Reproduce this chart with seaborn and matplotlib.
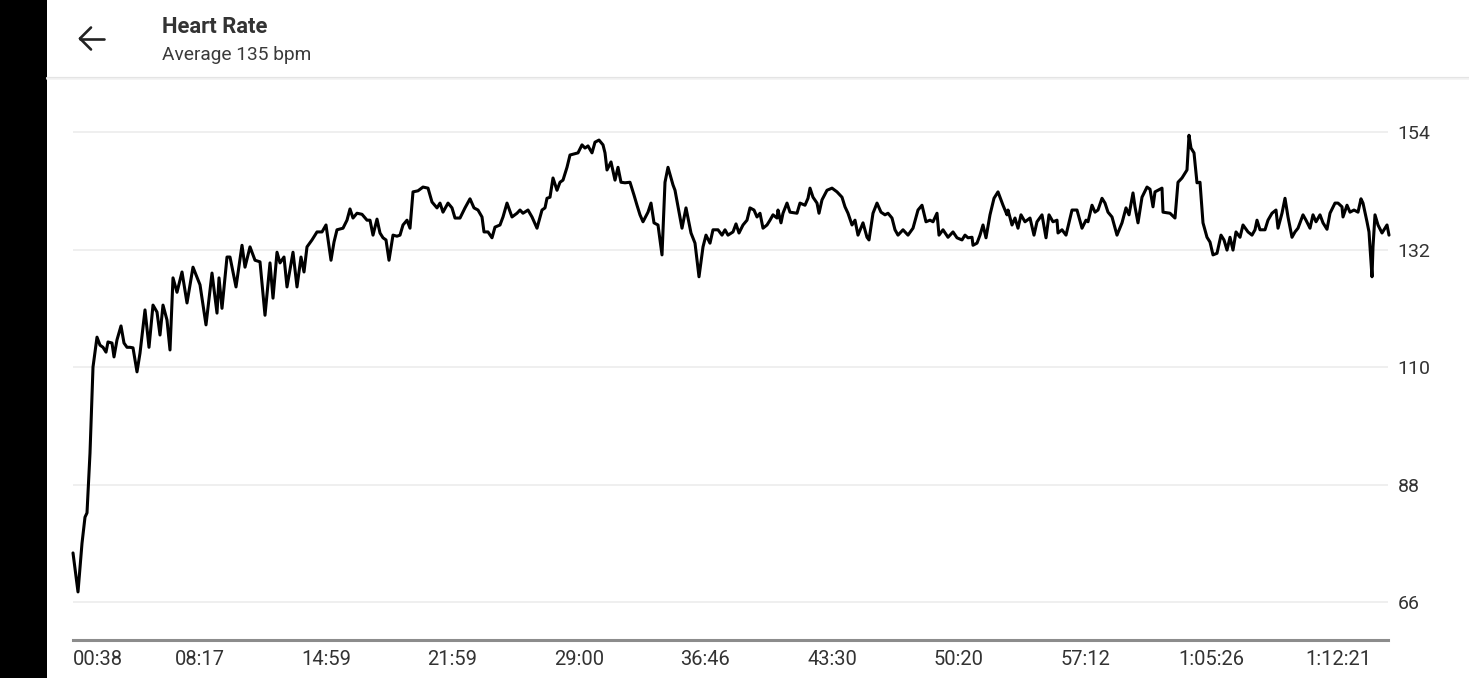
import numpy as np
import pandas as pd
import matplotlib
matplotlib.use("Agg")
import matplotlib.pyplot as plt
from matplotlib.lines import Line2D
from matplotlib.patches import Rectangle
import seaborn as sns

# ---------------- data ----------------
title = "Heart Rate"
subtitle = "Average 135 bpm"

sample_idx = [
    0, 5, 9, 12, 14, 17, 20, 24, 27, 30, 33, 35, 39, 41, 44, 48, 51, 54, 57, 60,
    64, 67, 72, 76, 80, 84, 87, 90, 94, 97, 100, 104, 109, 114, 120, 127, 133, 139, 144, 146,
    149, 154, 157, 163, 169, 172, 177, 182, 187, 192, 197, 200, 204, 207, 211, 214, 220, 224, 228, 231,
    234, 239, 244, 249, 253, 258, 261, 264, 270, 274, 277, 280, 284, 289, 294, 297, 300, 304, 307, 310,
    313, 316, 320, 324, 327, 330, 334, 337, 340, 345, 350, 355, 359, 364, 367, 370, 375, 379, 382, 387,
    392, 397, 401, 405, 409, 411, 415, 419, 422, 427, 430, 434, 439, 444, 447, 450, 455, 459, 464, 469,
    472, 474, 477, 480, 484, 487, 490, 494, 497, 505, 509, 512, 515, 519, 522, 526, 530, 532, 534, 538,
    542, 545, 548, 552, 557, 561, 564, 567, 570, 575, 578, 581, 585, 589, 592, 595, 600, 602, 609, 613,
    618, 622, 626, 630, 633, 637, 640, 645, 649, 652, 655, 660, 663, 666, 670, 674, 677, 681, 684, 687,
    690, 694, 697, 700, 704, 705, 708, 710, 714, 717, 724, 727, 732, 735, 737, 740, 744, 746, 749, 754,
    759, 764, 769, 772, 775, 779, 782, 785, 790, 794, 796, 800, 804, 808, 812, 815, 819, 822, 825, 830,
    835, 840, 845, 849, 853, 857, 860, 864, 866, 870, 875, 880, 884, 889, 892, 895, 899, 900, 904, 907,
    910, 913, 917, 921, 925, 930, 934, 935, 939, 942, 945, 948, 952, 957, 961, 964, 969, 973, 976, 980,
    984, 985, 989, 993, 999, 1004, 1009, 1013, 1015, 1019, 1022, 1025, 1029, 1032, 1035, 1039, 1044, 1049, 1053, 1056,
    1060, 1062, 1065, 1069, 1074, 1077, 1080, 1082, 1089, 1090, 1097, 1102, 1105, 1109, 1114, 1116, 1118, 1121, 1124, 1127,
    1130, 1134, 1137, 1140, 1144, 1148, 1151, 1154, 1157, 1160, 1163, 1167, 1170, 1175, 1179, 1182, 1184, 1187, 1192, 1195,
    1199, 1203, 1205, 1209, 1212, 1215, 1219, 1222, 1225, 1230, 1233, 1237, 1240, 1243, 1247, 1250, 1254, 1257, 1262, 1265,
    1269, 1270, 1274, 1277, 1281, 1285, 1288, 1290, 1294, 1296, 1299, 1300, 1302, 1305, 1309, 1312, 1314, 1316,
]

heart_rate = [
    75.2, 67.9, 77.0, 81.9, 82.7, 93.9, 110.0, 115.6, 114.1, 113.7, 112.8, 114.7, 114.5, 111.9, 115.1, 117.7, 114.5, 113.7, 113.7, 113.6,
    109.1, 112.6, 120.7, 113.7, 121.6, 120.3, 116.0, 121.6, 118.8, 113.2, 126.7, 124.0, 127.8, 122.0, 128.7, 125.4, 117.9, 127.6, 120.1, 126.7,
    121.0, 130.6, 130.6, 125.0, 132.8, 128.7, 132.5, 130.0, 129.7, 119.7, 129.5, 122.9, 131.5, 129.5, 130.6, 125.0, 131.5, 125.0, 130.6, 127.8,
    132.5, 133.8, 135.3, 135.3, 136.6, 130.0, 133.4, 135.7, 136.0, 137.5, 139.6, 137.9, 138.8, 138.6, 137.5, 137.5, 134.7, 137.7, 135.1, 134.2,
    133.8, 130.0, 134.7, 134.5, 134.7, 136.6, 137.5, 136.0, 142.8, 143.0, 143.7, 143.5, 140.9, 139.8, 140.7, 139.0, 140.7, 139.8, 137.9, 137.9,
    139.8, 141.5, 139.8, 139.4, 138.1, 135.3, 135.3, 134.2, 136.2, 136.6, 138.1, 140.7, 138.1, 138.8, 139.4, 138.8, 139.4, 138.1, 136.0, 139.4,
    139.8, 141.6, 141.8, 145.4, 143.1, 144.6, 145.0, 147.4, 149.7, 150.1, 151.6, 151.0, 151.4, 150.1, 152.1, 152.5, 151.6, 150.1, 146.9, 148.4,
    145.0, 147.4, 144.6, 144.5, 144.6, 142.2, 140.3, 138.5, 137.2, 139.0, 140.7, 137.0, 136.6, 131.0, 144.6, 147.4, 144.1, 143.1, 136.0, 139.8,
    135.1, 133.2, 126.9, 132.5, 134.7, 133.2, 135.7, 135.7, 134.7, 135.7, 134.7, 135.3, 136.8, 135.1, 136.6, 137.5, 139.8, 139.4, 138.1, 138.8,
    136.0, 136.6, 137.5, 138.5, 137.9, 139.4, 137.0, 138.8, 140.7, 139.0, 138.8, 140.7, 140.3, 141.6, 143.5, 141.8, 140.7, 138.8, 141.3, 143.1,
    143.5, 142.8, 141.8, 140.0, 138.8, 136.6, 137.5, 134.7, 137.0, 134.3, 133.8, 138.8, 140.7, 139.0, 138.5, 138.8, 137.9, 135.7, 134.7, 135.7,
    134.7, 136.0, 139.4, 140.3, 137.2, 137.5, 137.2, 138.8, 134.7, 135.7, 134.3, 135.3, 134.2, 133.8, 134.7, 134.2, 134.3, 132.8, 133.2, 134.7,
    136.6, 134.2, 138.5, 141.6, 142.8, 140.3, 138.5, 139.4, 136.6, 137.9, 136.0, 138.5, 137.2, 137.9, 134.7, 137.2, 138.5, 134.2, 138.5, 137.2,
    137.5, 135.1, 135.7, 134.7, 139.4, 139.4, 136.0, 137.5, 137.2, 140.3, 139.0, 139.4, 141.6, 140.7, 139.0, 138.1, 134.7, 137.0, 139.8, 138.5,
    142.6, 140.0, 137.0, 141.8, 143.7, 143.3, 140.0, 142.8, 143.5, 139.0, 138.8, 137.9, 144.6, 145.4, 146.9, 153.4, 151.0, 150.1, 144.5, 144.6,
    137.0, 134.3, 133.4, 131.0, 131.3, 134.7, 133.8, 131.9, 134.3, 131.9, 135.3, 134.3, 136.6, 135.3, 134.7, 135.7, 137.5, 135.7, 135.7, 137.5,
    138.8, 139.4, 136.0, 138.8, 141.6, 138.1, 134.3, 135.3, 136.0, 138.5, 137.5, 136.0, 138.5, 137.2, 138.5, 137.0, 135.8, 138.8, 140.7, 140.7,
    140.0, 138.1, 140.3, 139.0, 139.4, 139.0, 141.5, 140.7, 137.2, 135.3, 126.9, 132.5, 138.5, 136.6, 135.1, 136.0, 136.6, 134.7,
]

x_tick_labels = ["00:38", "08:17", "14:59", "21:59", "29:00", "36:46",
                 "43:30", "50:20", "57:12", "1:05:26", "1:12:21"]
y_ticks = [66, 88, 110, 132, 154]

df = pd.DataFrame({"sample": sample_idx, "bpm": heart_rate})

# ---------------- style ----------------
sns.set_theme(style="white")
plt.rcParams["font.family"] = ["Roboto", "DejaVu Sans"]

W, H = 1469, 678
fig = plt.figure(figsize=(W / 100, H / 100), dpi=100)
fig.patch.set_facecolor("white")

def fx(px):
    return px / W

def fy(py):
    return 1 - py / H

# left black bar
fig.patches.append(Rectangle((0, 0), fx(47), 1, transform=fig.transFigure,
                             facecolor="black", edgecolor="none", zorder=0))
# header shadow line
fig.add_artist(Line2D([fx(47), 1], [fy(77.5), fy(77.5)], transform=fig.transFigure,
                      color="#e4e4e4", lw=1.6))
fig.add_artist(Line2D([fx(47), 1], [fy(79), fy(79)], transform=fig.transFigure,
                      color="#f3f3f3", lw=1.2))

# back arrow icon
arrow_kw = dict(transform=fig.transFigure, color="#222222", lw=1.9,
                solid_capstyle="round")
fig.add_artist(Line2D([fx(80), fx(104)], [fy(38.5), fy(38.5)], **arrow_kw))
fig.add_artist(Line2D([fx(80), fx(91)], [fy(38.5), fy(27.5)], **arrow_kw))
fig.add_artist(Line2D([fx(80), fx(91)], [fy(38.5), fy(49.5)], **arrow_kw))

fig.text(fx(162), fy(33), title, fontsize=15.8, fontweight="bold",
         color="#333333", ha="left", va="baseline")
fig.text(fx(162), fy(60), subtitle, fontsize=13.8, color="#3a3a3a",
         ha="left", va="baseline")

# ---------------- chart ----------------
ax_left, ax_right, ax_top, ax_bottom = 73, 1388, 100, 640
ax = fig.add_axes([fx(ax_left), fy(ax_bottom), (ax_right - ax_left) / W,
                   (ax_bottom - ax_top) / H])
ax.set_facecolor("none")

sns.lineplot(data=df, x="sample", y="bpm", ax=ax, color="black",
             linewidth=2.2, clip_on=False, zorder=3)

ax.set_xlim(0, 1315)
ax.set_ylim(58.9, 160.0)

tick_step = 126.5
ax.set_xticks(np.arange(len(x_tick_labels)) * tick_step)
ax.set_xticklabels(x_tick_labels)
ax.set_yticks(y_ticks)
ax.set_yticklabels([str(v) for v in y_ticks])

ax.yaxis.tick_right()
ax.tick_params(axis="y", length=0, pad=7, labelsize=14, labelcolor="#333333")
ax.tick_params(axis="x", length=0, pad=7, labelsize=14.5, labelcolor="#333333")
for lab in ax.get_xticklabels()[:1]:
    lab.set_horizontalalignment("left")

ax.grid(axis="y", color="#ececec", linewidth=1.2)
ax.grid(axis="x", visible=False)
for s in ["top", "left", "right"]:
    ax.spines[s].set_visible(False)
ax.spines["bottom"].set_color("#8c8c8c")
ax.spines["bottom"].set_linewidth(2.2)
ax.set_xlabel("")
ax.set_ylabel("")

fig.savefig("out.png", dpi=100, facecolor="white")
